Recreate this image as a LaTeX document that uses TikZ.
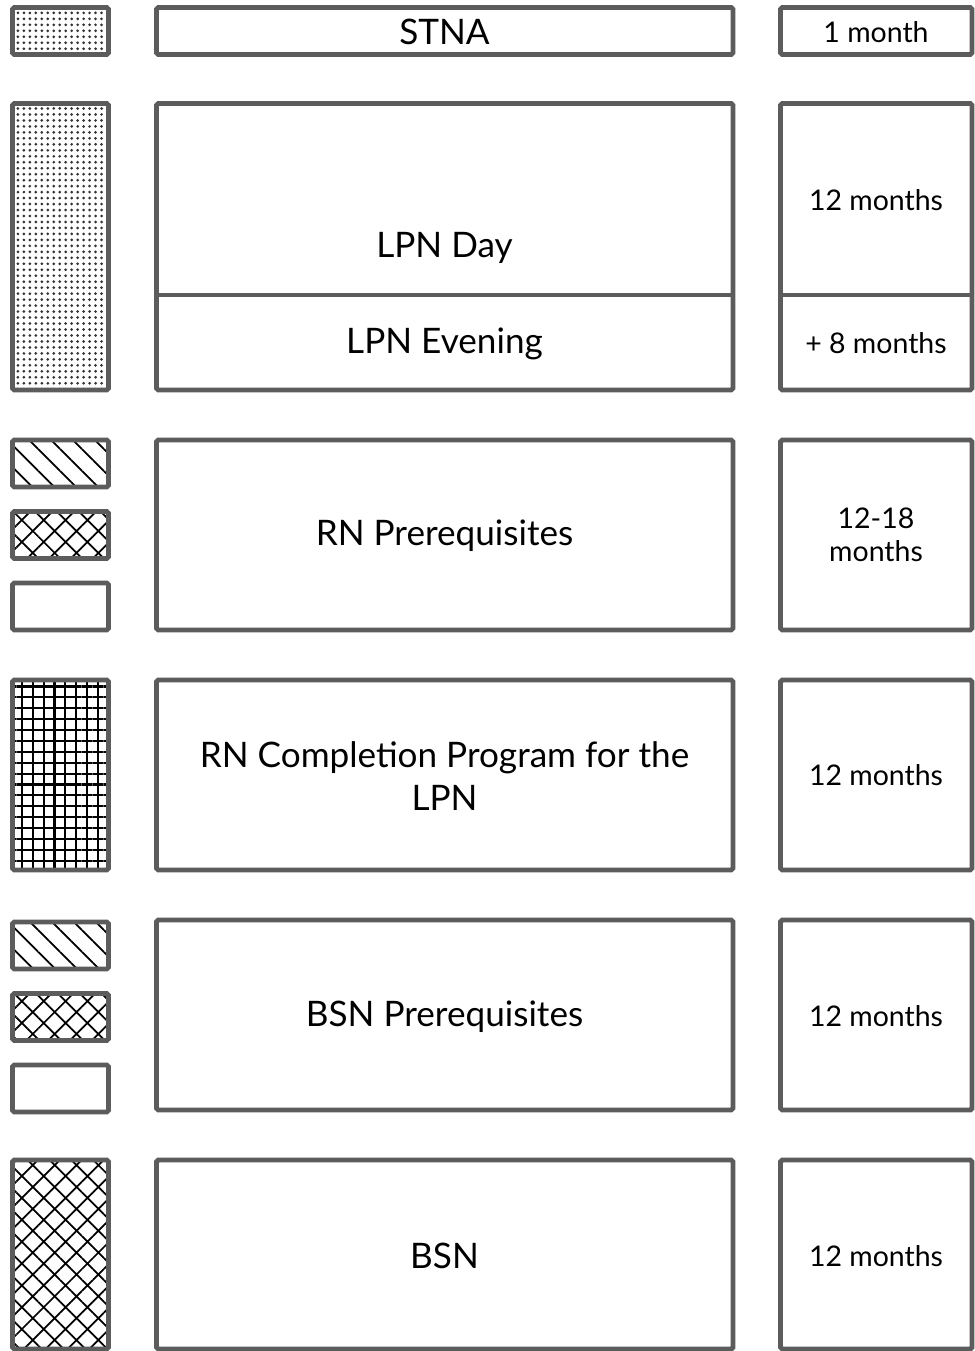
\documentclass[tikz,border=0pt]{standalone}
\usepackage{fontspec}
\setmainfont{Lato}
\usetikzlibrary{patterns,patterns.meta}
\definecolor{framegray}{HTML}{5C5C5C}

\tikzset{
  bx/.style={draw=framegray, line width=2.8pt, rounded corners=1pt},
  prog/.style={font=\fontsize{20}{24}\selectfont, align=center},
  dur/.style={font=\fontsize{16.2}{19}\selectfont, align=center},
  dotfill/.style={pattern={Dots[radius=0.85pt,distance=3.4pt]}, pattern color=black!80},
  slantfill/.style={pattern={Lines[angle=-45,distance=8.8pt,line width=1pt]}, pattern color=black},
  diafill/.style={pattern={Hatch[angle=45,distance=8.8pt,line width=1pt]}, pattern color=black},
  gridfill/.style={pattern={Hatch[angle=0,distance=6.2pt,line width=1.2pt]}, pattern color=black}
}

\begin{document}
\begin{tikzpicture}[x=0.02cm,y=-0.02cm]
\useasboundingbox (0,0) rectangle (974,1351);
%----------------STNA----------
\draw[bx,dotfill] (12.5,7.5) rectangle (108.5,54.5);
\draw[bx] (156.5,7.5) rectangle (733,54.5);
\draw[bx] (780.5,7.5) rectangle (972,54.5);
\node[prog] (stna) at (444.5,32) {STNA};
\node[dur] (stnat) at (876,32) {1 month};
%----------------LPN----------
\draw[bx,dotfill] (12.5,103.5) rectangle (108.5,390);
\draw[bx] (156.5,103.5) rectangle (733,390);
\draw[bx] (156.5,295) -- (733,295);
\draw[bx] (780.5,103.5) rectangle (972,390);
\draw[bx] (780.5,295) -- (972,295);
\node[prog] (lpnday) at (444.5,248) {LPN Day};
\node[prog] (lpneve) at (444.5,344) {LPN Evening};
\node[dur] (lpndayt) at (876,200) {12 months};
\node[dur] (lpnevet) at (876,343) {+ 8 months};
%----------------prerequisites (small boxes)----------
\foreach \t in {440,922}{
  \draw[bx,slantfill] (12.5,\t) rectangle (108.5,\t+47);
  \draw[bx,diafill] (12.5,\t+71.5) rectangle (108.5,\t+118.5);
  \draw[bx] (12.5,\t+143) rectangle (108.5,\t+190);
}
%----------------RN prereq----------
\draw[bx] (156.5,440) rectangle (733,630);
\draw[bx] (780.5,440) rectangle (972,630);
\node[prog] (rnpre) at (444.5,536) {RN Prerequisites};
\node[dur] (rnpret) at (876,535) {12-18\\months};
%----------------RN completion----------
\draw[bx,gridfill] (12.5,680) rectangle (108.5,870);
\draw[bx] (156.5,680) rectangle (733,870);
\draw[bx] (780.5,680) rectangle (972,870);
\node[prog] (rncomp) at (444.5,776) {RN Completion Program for the\\LPN};
\node[dur] (rncompt) at (876,775) {12 months};
%----------------BSN prereq----------
\draw[bx] (156.5,920) rectangle (733,1110);
\draw[bx] (780.5,920) rectangle (972,1110);
\node[prog] (bsnpre) at (444.5,1017) {BSN Prerequisites};
\node[dur] (bsnpret) at (876,1016) {12 months};
%----------------BSN----------
\draw[bx,diafill] (12.5,1160) rectangle (108.5,1349);
\draw[bx] (156.5,1160) rectangle (733,1349);
\draw[bx] (780.5,1160) rectangle (972,1349);
\node[prog] (bsn) at (444.5,1256) {BSN};
\node[dur] (bsnt) at (876,1256) {12 months};
\end{tikzpicture}
\end{document}
